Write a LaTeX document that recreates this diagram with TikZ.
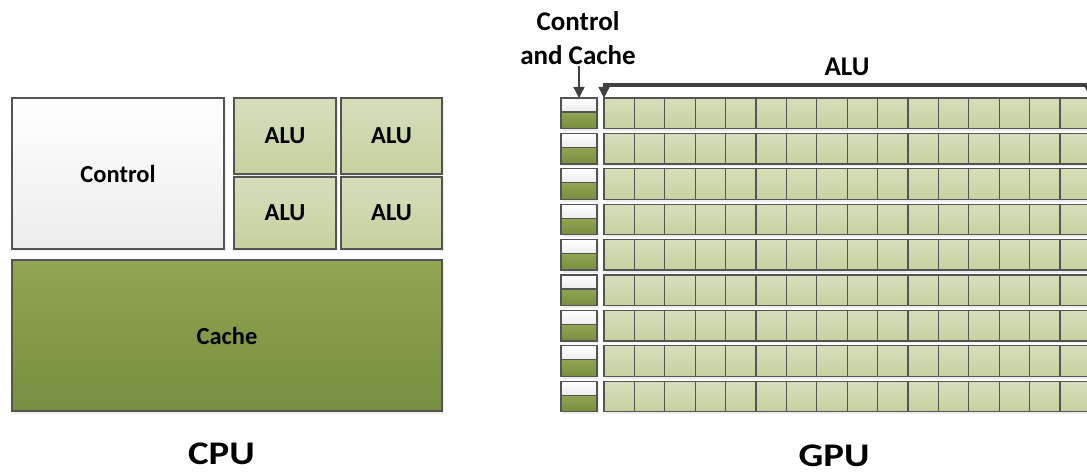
\documentclass[tikz,border=0pt]{standalone}
\usepackage{fontspec}
\setmainfont{Carlito}
\newfontfamily\titlefont[FakeStretch=1.18]{Carlito}
\usepackage{xcolor}
\usetikzlibrary{arrows.meta,shadows}
\definecolor{edge}{HTML}{545454}
\definecolor{arrowgray}{HTML}{404040}
\definecolor{ctltop}{HTML}{FFFFFF}
\definecolor{ctlbot}{HTML}{ECECEC}
\definecolor{alutop}{HTML}{D6DEBA}
\definecolor{alubot}{HTML}{C6D1A0}
\definecolor{cachetop}{HTML}{90A653}
\definecolor{cachebot}{HTML}{788E40}

\begin{document}
\begin{tikzpicture}[x=1pt,y=-1pt,>={Triangle[width=11pt,length=11pt]},
  box/.style={draw=edge,line width=1.3pt,inner sep=0pt,outer sep=0pt,
    font=\fontsize{24.5}{29}\selectfont\bfseries},
  shade/.style={drop shadow={shadow xshift=2pt,shadow yshift=-2.5pt,opacity=.15}},
  ctlbox/.style={box,shade,top color=ctltop,bottom color=ctlbot},
  alubox/.style={box,shade,top color=alutop,bottom color=alubot},
  cachebox/.style={box,shade,top color=cachetop,bottom color=cachebot},
  cell/.style={alubox,minimum width=30.4pt,minimum height=30.5pt,anchor=north west},
  lbl/.style={font=\fontsize{27}{34}\selectfont\bfseries,inner sep=1pt},
  title/.style={font=\titlefont\fontsize{33}{40}\selectfont\bfseries,anchor=base,inner sep=0pt},
  arr/.style={draw=arrowgray,fill=arrowgray,line width=1.3pt}]
\useasboundingbox (0,0) rectangle (1087,473);
\clip (0,0) rectangle (1087,473);

% CPU
\node[ctlbox,minimum width=212pt,minimum height=151pt] (control) at (118,173.5) {Control};
\node[alubox,minimum width=102pt,minimum height=76pt] (alu1) at (285,136) {ALU};
\node[alubox,minimum width=101pt,minimum height=76pt] (alu2) at (391.5,136) {ALU};
\node[alubox,minimum width=102pt,minimum height=72pt] (alu3) at (285,213) {ALU};
\node[alubox,minimum width=101pt,minimum height=72pt] (alu4) at (391.5,213) {ALU};
\node[cachebox,minimum width=430pt,minimum height=151pt] (cache) at (227,335.5) {Cache};
\node[title] (cpu) at (221.5,464) {CPU};

% GPU: one control/cache pair and a row of ALUs per line
\foreach \r in {0,...,8}{
  \pgfmathsetmacro\ry{98+35.4*\r}
  \node[ctlbox,minimum width=36pt,minimum height=14pt,anchor=north west] (cw\r) at (561,\ry) {};
  \node[cachebox,minimum width=36pt,minimum height=16.5pt,anchor=north] (cg\r) at (cw\r.south) {};
  \foreach \c in {0,...,15}
    \node[cell] (a\r-\c) at ({604+30.4*\c},\ry) {};
}
\node[lbl,align=center] (ccl) at (578,38) {Control\\and Cache};
\draw[->,arr] (ccl.south -| cw0.north) -- (cw0.north);
\draw[<->,arr] (a0-0.north west) -- ++(0,-14) coordinate (bl) -| (a0-15.north east);
\node[lbl,anchor=base] (alul) at (847,76) {ALU};
\node[title] (gpu) at (834,466) {GPU};
\end{tikzpicture}
\end{document}
